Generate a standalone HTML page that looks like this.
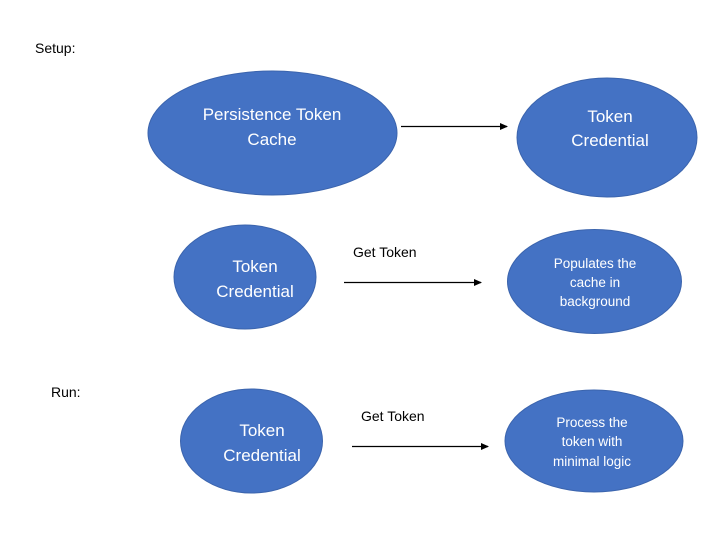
<!DOCTYPE html>
<html><head><style>
html,body{margin:0;padding:0;background:#fff;}
svg{display:block;}
text{font-family:"Liberation Sans",sans-serif;}
</style></head><body>
<svg width="714" height="537" viewBox="0 0 714 537">
<defs><marker id="a" markerWidth="8" markerHeight="8" refX="7" refY="4" orient="auto" markerUnits="userSpaceOnUse"><path d="M0,0.5 L8,4 L0,7.5 z" fill="#000"/></marker></defs>
<g fill="#4472C4" stroke="#3b64ad" stroke-width="1">
<ellipse cx="272.5" cy="133" rx="124.5" ry="62"/>
<ellipse cx="607" cy="137.5" rx="90" ry="59.5"/>
<ellipse cx="245" cy="277" rx="71" ry="52"/>
<ellipse cx="594.5" cy="281.5" rx="87" ry="52"/>
<ellipse cx="251.5" cy="441" rx="71" ry="52"/>
<ellipse cx="594" cy="441" rx="89" ry="51"/>
</g>
<g stroke="#000" stroke-width="1.3" fill="none">
<line x1="401" y1="126.5" x2="507" y2="126.5" marker-end="url(#a)"/>
<line x1="344" y1="282.5" x2="481" y2="282.5" marker-end="url(#a)"/>
<line x1="352" y1="446.5" x2="488" y2="446.5" marker-end="url(#a)"/>
</g>
<g fill="#000" font-size="14">
<text x="35" y="53">Setup:</text>
<text x="51" y="397">Run:</text>
<text x="353" y="257">Get Token</text>
<text x="361" y="421">Get Token</text>
</g>
<g fill="#fff" text-anchor="middle" font-size="17">
<text x="272" y="120">Persistence Token</text>
<text x="272" y="145">Cache</text>
<text x="610" y="122">Token</text>
<text x="610" y="146">Credential</text>
<text x="255" y="272">Token</text>
<text x="255" y="297">Credential</text>
<text x="262" y="436">Token</text>
<text x="262" y="461">Credential</text>
</g>
<g fill="#fff" text-anchor="middle" font-size="13.5">
<text x="595" y="268">Populates the</text>
<text x="595" y="287">cache in</text>
<text x="595" y="306">background</text>
<text x="592" y="427">Process the</text>
<text x="592" y="446">token with</text>
<text x="592" y="466">minimal logic</text>
</g>
</svg>
</body></html>
